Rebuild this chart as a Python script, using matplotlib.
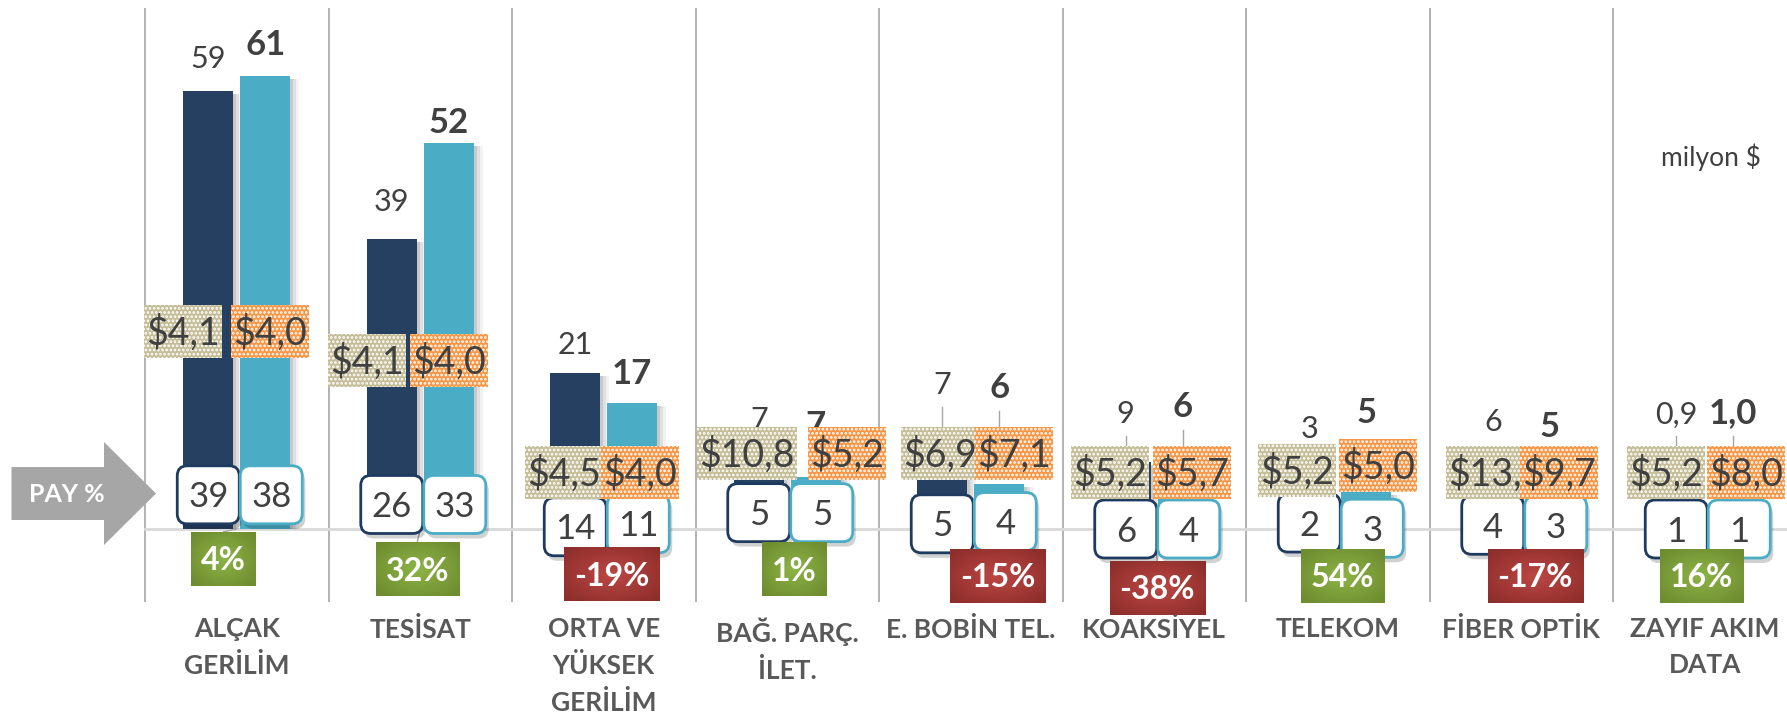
import matplotlib
matplotlib.use('Agg')
import matplotlib.pyplot as plt
from matplotlib.patches import FancyBboxPatch, Polygon, Rectangle
from matplotlib.colors import to_rgb
import numpy as np

plt.rcParams['font.family'] = ['Lato', 'DejaVu Sans']
plt.rcParams['hatch.linewidth'] = 1.3

# ---------------- data ----------------
categories = ['ALÇAK\nGERİLİM', 'TESİSAT', 'ORTA VE\nYÜKSEK\nGERİLİM', 'BAĞ. PARÇ.\nİLET.',
              'E. BOBİN TEL.', 'KOAKSİYEL', 'TELEKOM', 'FİBER OPTİK', 'ZAYIF AKIM\nDATA']
value_prev = [59, 39, 21, 7, 7, 9, 3, 6, 0.9]
value_curr = [61, 52, 17, 7, 6, 6, 5, 5, 1.0]
price_prev = [4.1, 4.1, 4.5, 10.8, 6.9, 5.2, 5.2, 13.3, 5.2]
price_curr = [4.0, 4.0, 4.0, 5.2, 7.1, 5.7, 5.0, 9.7, 8.0]
share_prev = [39, 26, 14, 5, 5, 6, 2, 4, 1]
share_curr = [38, 33, 11, 5, 4, 4, 3, 3, 1]
change_pct = [4, 32, -19, 1, -15, -38, 54, -17, 16]
unit_text = 'milyon $'
pay_text = 'PAY %'

# ---------------- label layout (placement only) ----------------
val_lbl_y_prev = [63.5, 44.3, 25.1, 14.9, 19.6, 15.7, 13.7, 14.7, 15.7]
val_lbl_y_curr = [65.5, 55.0, 21.2, 14.2, 19.3, 16.8, 15.9, 14.1, 16.0]
price_y_prev = [26.6, 22.7, 7.6, 10.2, 10.2, 7.6, 7.9, 7.6, 7.6]
price_y_curr = [26.6, 22.7, 7.6, 10.2, 10.2, 7.6, 8.6, 7.6, 7.6]
price_dx_prev = [-25, -25, -11, -12, -2, -16, -12, 3, -10]   # px
price_dx_curr = [5, 0, 8, 31, 15, 9, 12, 9, 13]              # px
share_y_prev = [4.6, 3.3, 0.3, 2.2, 0.7, 0.0, 0.8, 0.5, 0.0]
share_y_curr = [4.6, 3.3, 0.7, 2.2, 1.0, 0.0, 0.1, 0.5, 0.0]
change_y = [-4.0, -5.4, -6.1, -5.4, -6.3, -7.9, -6.3, -6.3, -6.3]
change_dx = [-13, -3, 8, 7, 27, 3, 5, 14, -3]                 # px

# ---------------- styles ----------------
DARK = '#254061'
TEAL = '#4BACC6'
BEIGE = '#C4BD97'
ORANGE = '#F79646'
TXT = '#404040'
SEP = '#A6A6A6'

W, H = 1787, 714
SX = 183.5      # px per category
SY = 7.43       # px per value unit
C0 = 236.75     # px of first category centre
BASE = 529      # px (from top) of zero line

fig = plt.figure(figsize=(W / 100, H / 100), dpi=100)
ax = fig.add_axes([0, 0, 1, 1])
XL = (-C0 / SX, (W - C0) / SX)
YL = (-(H - BASE) / SY, BASE / SY)
ax.set_xlim(*XL)
ax.set_ylim(*YL)
ax.axis('off')
renderer = fig.canvas.get_renderer()

def px_x(p):
    return p / SX

def px_y(p):
    return p / SY

def em(size):
    return size * 100 / 72.0

def fmt_val(v):
    if v < 2:
        return f"{v:.1f}".replace('.', ',')
    return f"{v:.0f}"

def fmt_price(v):
    return "$" + f"{v:.1f}".replace('.', ',')

def ctext(x, yc, s, size, weight='normal', color=TXT, z=6, ha='center'):
    # place text so that digit/cap body is centred at yc
    yb = yc - px_y(0.36 * em(size))
    return ax.text(x, yb, s, ha=ha, va='baseline', fontsize=size, fontweight=weight,
                   color=color, zorder=z)

def grad_box(xc, yc, wpx, hpx, c_in, c_out, z):
    n = 80
    yy, xx = np.mgrid[-1:1:n * 1j, -1:1:n * 1j]
    r = np.clip(np.sqrt(xx ** 2 + yy ** 2) / 1.3, 0, 1)
    cin = np.array(to_rgb(c_in))
    cout = np.array(to_rgb(c_out))
    img = cin[None, None, :] * (1 - r[..., None]) + cout[None, None, :] * r[..., None]
    ax.imshow(img, extent=[xc - px_x(wpx / 2), xc + px_x(wpx / 2),
                           yc - px_y(hpx / 2), yc + px_y(hpx / 2)],
              aspect='auto', zorder=z, interpolation='bilinear')

x = np.arange(len(categories))
off = px_x(28.5)
bw = px_x(50)

# separators and zero line
ax.vlines(x - 0.5, px_y(BASE - 602), px_y(BASE - 8), color=SEP, lw=1.2, zorder=0.5)
ax.plot([-0.5, XL[1]], [0, 0], color='#D9D9D9', lw=2, zorder=0.6)

# bar shadows + bars
vp = np.array(value_prev, dtype=float)
vc = np.array(value_curr, dtype=float)
for dx, a in [(3, 0.10), (6, 0.08), (9, 0.05)]:
    ax.bar(x - off + px_x(dx), np.maximum(vp - px_y(3), 0), bw, color='#000000', alpha=a, zorder=1.5, linewidth=0)
    ax.bar(x + off + px_x(dx), np.maximum(vc - px_y(3), 0), bw, color='#000000', alpha=a, zorder=1.5, linewidth=0)
ax.bar(x - off, vp, bw, color=DARK, zorder=2, linewidth=0)
ax.bar(x + off, vc, bw, color=TEAL, zorder=2, linewidth=0)

# value labels above bars (+ leader lines where displaced)
PH = 53  # price box height px
for k in range(len(categories)):
    for xv, v, ly, py, weight, size in [
        (x[k] - off, vp[k], val_lbl_y_prev[k], price_y_prev[k], 'normal', 22),
        (x[k] + off, vc[k], val_lbl_y_curr[k], price_y_curr[k], 'bold', 25)]:
        ctext(xv, ly, fmt_val(v), size, weight=weight, z=3)
        natural = v + px_y(32)
        bottom = ly - px_y(0.36 * em(size)) - px_y(13)
        top_box = py + px_y(PH / 2)
        if ly - natural > 2 and bottom - top_box > px_y(8):
            ax.plot([xv, xv], [bottom, top_box], color=SEP, lw=1, zorder=3)

# change label leader lines (from category anchor on baseline)
CH = 54
for k in range(len(categories)):
    xc = x[k] + px_x(change_dx[k])
    ax.plot([x[k], xc], [0, change_y[k] + px_y(CH / 2)], color=SEP, lw=1, zorder=3)

# share (PAY %) boxes
BW_, BH_ = 62, 58
for k in range(len(categories)):
    for xc, yc, s, ec in [(x[k] - off, share_y_prev[k], share_prev[k], '#1F3A5F'),
                          (x[k] + off + px_x(6), share_y_curr[k], share_curr[k], TEAL)]:
        sh = FancyBboxPatch((xc - px_x(BW_ / 2) + px_x(3), yc - px_y(BH_ / 2) - px_y(5)),
                            px_x(BW_), px_y(BH_),
                            boxstyle=f'round,pad=0,rounding_size={px_x(10)}',
                            mutation_aspect=SX / SY, facecolor='#000000', alpha=0.18,
                            edgecolor='none', zorder=4.4)
        ax.add_patch(sh)
        bx = FancyBboxPatch((xc - px_x(BW_ / 2), yc - px_y(BH_ / 2)), px_x(BW_), px_y(BH_),
                            boxstyle=f'round,pad=0,rounding_size={px_x(10)}',
                            mutation_aspect=SX / SY, facecolor='white', edgecolor=ec,
                            lw=2.0, zorder=4.5)
        ax.add_patch(bx)
        ctext(xc, yc, str(s), 25, z=4.6)

# price boxes (hatched)
for k in range(len(categories)):
    items = [(x[k] - off + px_x(price_dx_prev[k]), price_y_prev[k], fmt_price(price_prev[k]), BEIGE, 5.0),
             (x[k] + off + px_x(price_dx_curr[k]), price_y_curr[k], fmt_price(price_curr[k]), ORANGE, 5.2)]
    for xc, yc, s, col, z in items:
        t = ctext(xc, yc, s, 27, z=z + 0.1)
        wpx = t.get_window_extent(renderer).width + 4
        ax.add_patch(Rectangle((xc - px_x(wpx / 2), yc - px_y(PH / 2)), px_x(wpx), px_y(PH),
                               facecolor=col, edgecolor='white', lw=0, hatch='....', zorder=z))

# change boxes
for k in range(len(categories)):
    xc = x[k] + px_x(change_dx[k])
    yc = change_y[k]
    s = f"{change_pct[k]}%"
    t = ctext(xc, yc, s, 23, weight='bold', color='white', z=6.1)
    wpx = t.get_window_extent(renderer).width + 20
    if change_pct[k] >= 0:
        grad_box(xc, yc, wpx, CH, '#8DB446', '#6E8C30', 6)
    else:
        grad_box(xc, yc, wpx, CH, '#BC4744', '#8E2E2C', 6)

# category labels
for k, lab in enumerate(categories):
    ax.text(x[k], px_y(BASE - 617), lab, ha='center', va='top', fontsize=19,
            fontweight='bold', color='#595959', linespacing=1.58, zorder=3)

# PAY % arrow
pts = [(11.5, 467), (104, 467), (104, 442), (156, 493.5), (104, 545), (104, 520), (11.5, 520)]
arrow = Polygon([(px / W, 1 - py / H) for px, py in pts], closed=True,
                transform=fig.transFigure, facecolor=SEP, edgecolor='none', zorder=1)
fig.add_artist(arrow)
fig.text(67 / W, 1 - 494 / H, pay_text, ha='center', va='center', fontsize=18,
         fontweight='bold', color='white', zorder=2)

# unit note
fig.text(1711 / W, 1 - 157 / H, unit_text, ha='center', va='center', fontsize=19, color=TXT)

ax.set_xlim(*XL)
ax.set_ylim(*YL)
fig.savefig('out.png', dpi=100)
